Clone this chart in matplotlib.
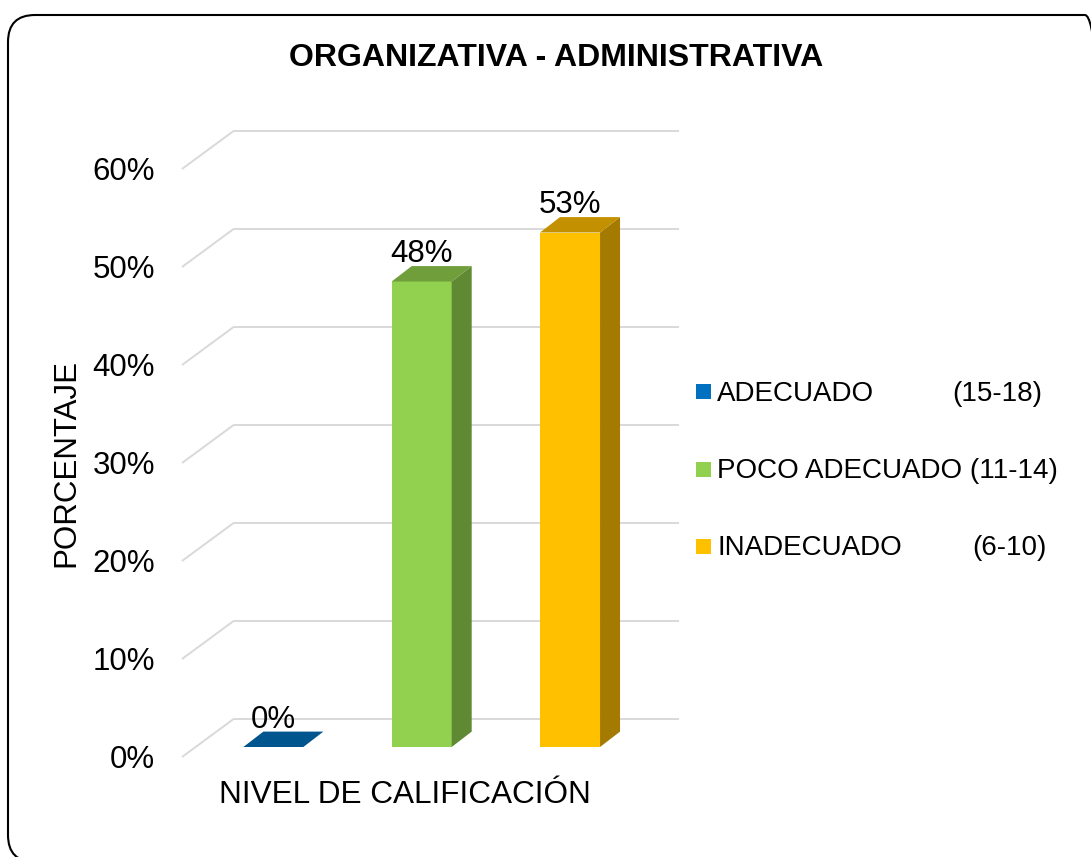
import matplotlib
matplotlib.use("Agg")
import matplotlib.pyplot as plt
from matplotlib.patches import Rectangle, Polygon, FancyBboxPatch
from matplotlib.transforms import IdentityTransform

plt.rcParams['font.family'] = ['Liberation Sans', 'DejaVu Sans']

# ---- data ----
categories = ["ADECUADO", "POCO ADECUADO", "INADECUADO"]
ranges = ["(15-18)", "(11-14)", "(6-10)"]
values = [0.0, 47.5, 52.5]
yticks = [0, 10, 20, 30, 40, 50, 60]
tick_labels = ["0%", "10%", "20%", "30%", "40%", "50%", "60%"]
title = "ORGANIZATIVA - ADMINISTRATIVA"
xlabel = "NIVEL DE CALIFICACIÓN"
ylabel = "PORCENTAJE"

front_colors = ["#0070C0", "#92D050", "#FFC000"]
side_colors = ["#004C85", "#5F8A33", "#A47B00"]
top_colors = ["#00558F", "#6F9E3A", "#C39000"]
grid_color = "#D9D9D9"

W, H = 1091, 857
fig = plt.figure(figsize=(W / 100, H / 100), dpi=100)
ax = fig.add_axes([182 / W, (H - 757) / H, 445 / W, 588 / H])
ax.set_xlim(-0.5, len(categories) - 0.5)
ax.set_ylim(0, 60)
ax.patch.set_visible(False)
for s in ax.spines.values():
    s.set_visible(False)
ax.set_xticks([])
ax.set_yticks(yticks, tick_labels)
ax.tick_params(axis='y', length=0, pad=19.5, labelsize=22.5)
ax.set_xlabel(xlabel, fontsize=22.7, labelpad=16.5)
ax.set_ylabel(ylabel, fontsize=22.5, labelpad=8)

# pixel -> data unit conversions
ux = 445 / len(categories)
uy = 588 / 60.0
floor_dx, floor_dy = 52 / ux, 38.3 / uy
shift_dx, shift_dy = 17.2 / ux, 10 / uy
bar_dx, bar_dy = 20 / ux, 15.4 / uy
bar_w = 60 / ux

x0 = -0.5
x1 = len(categories) - 0.5
for t in yticks:
    ax.plot([x0, x0 + floor_dx], [t, t + floor_dy], color=grid_color, lw=1.4,
            clip_on=False, zorder=1, solid_capstyle='butt')
    ax.plot([x0 + floor_dx, x1 + floor_dx], [t + floor_dy, t + floor_dy],
            color=grid_color, lw=1.4, clip_on=False, zorder=1, solid_capstyle='butt')

for i, v in enumerate(values):
    left = i - bar_w / 2 + shift_dx
    right = left + bar_w
    b = shift_dy
    top = b + v
    if v > 0:
        ax.add_patch(Rectangle((left, b), bar_w, v, fc=front_colors[i], ec='none',
                               clip_on=False, zorder=3))
        ax.add_patch(Polygon([(right, b), (right + bar_dx, b + bar_dy),
                              (right + bar_dx, top + bar_dy), (right, top)],
                             closed=True, fc=side_colors[i], ec='none',
                             clip_on=False, zorder=3))
    ax.add_patch(Polygon([(left, top), (right, top), (right + bar_dx, top + bar_dy),
                          (left + bar_dx, top + bar_dy)], closed=True,
                         fc=top_colors[i], ec='none', clip_on=False, zorder=3))
    ax.annotate(f"{int(v + 0.5)}%", xy=(i + shift_dx, top), xytext=(0, 19 * 0.72),
                textcoords='offset points', ha='center', va='baseline',
                fontsize=22.5, zorder=4, annotation_clip=False)

# title
fig.text(556 / W, (H - 66.5) / H, title, ha='center', va='baseline',
         fontsize=23, fontweight='bold')

# legend (manual)
leg_baselines = [400.7, 478.3, 555.0]
range_x = [952, None, 972]
for i, cat in enumerate(categories):
    yb = leg_baselines[i]
    fig.add_artist(Rectangle((696, H - yb + 1.5), 15, 15, transform=IdentityTransform(),
                             fc=front_colors[i], ec='none'))
    if range_x[i] is None:
        fig.text(717 / W, (H - yb) / H, f"{cat} {ranges[i]}", ha='left', va='baseline',
                 fontsize=20)
    else:
        fig.text(717 / W, (H - yb) / H, cat, ha='left', va='baseline', fontsize=20)
        fig.text(range_x[i] / W, (H - yb) / H, ranges[i], ha='left', va='baseline',
                 fontsize=20)

# rounded frame
fig.add_artist(FancyBboxPatch((8, -5), 1104, 847, boxstyle="round,pad=0,rounding_size=27",
                              transform=IdentityTransform(), fill=False, lw=1.5, ec='black'))

fig.savefig("out.png", dpi=100)
